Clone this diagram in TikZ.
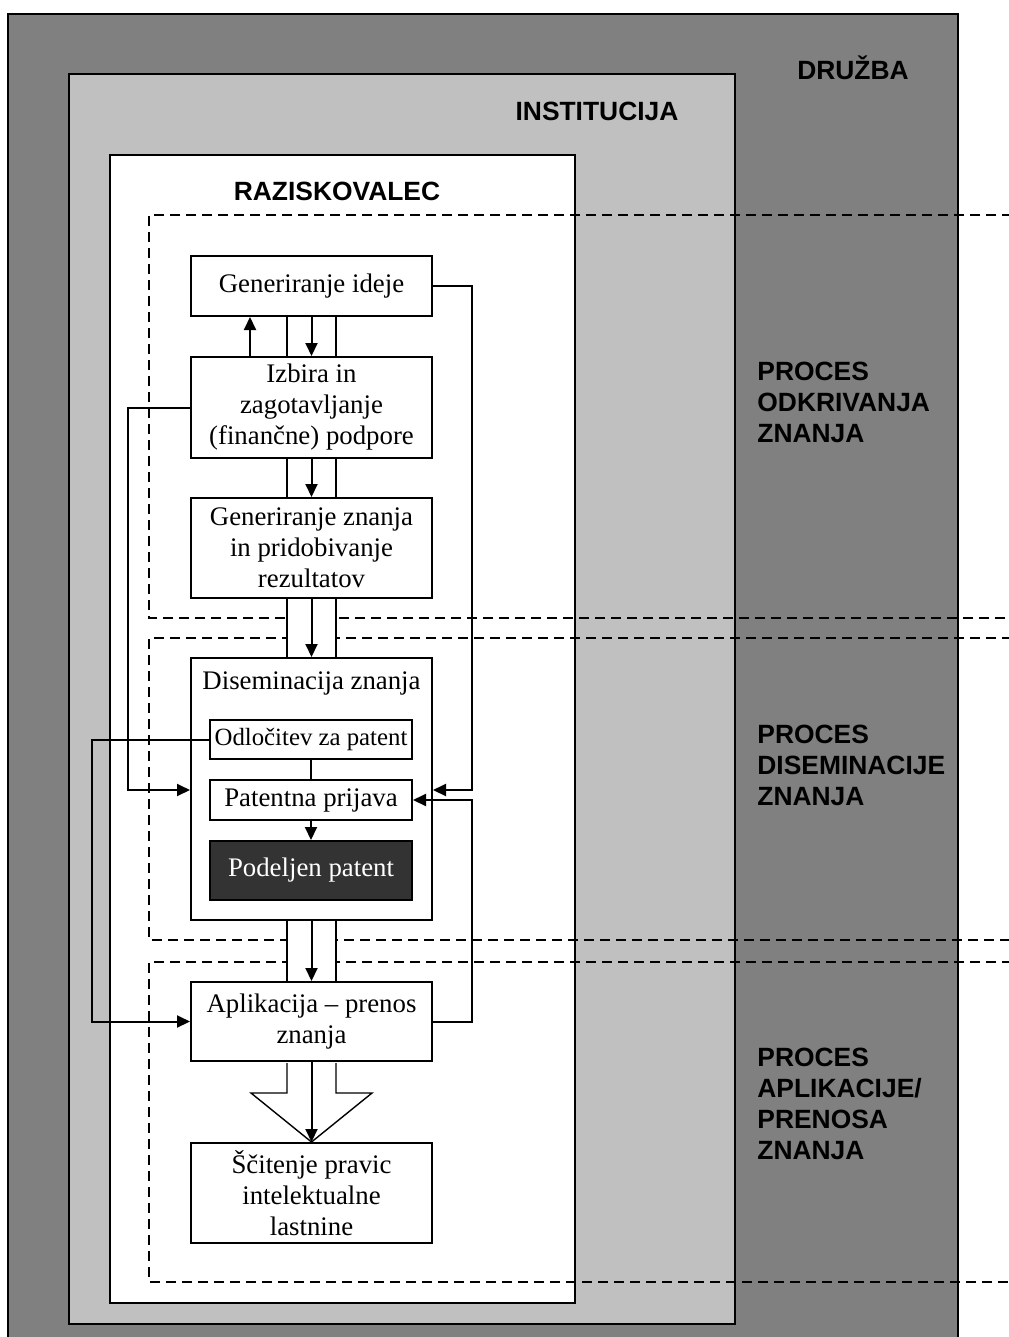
\documentclass[tikz,border=0pt]{standalone}
\usepackage{fontspec}
\setmainfont{Liberation Serif}
\newfontfamily\headfont{Liberation Sans}
\usetikzlibrary{arrows.meta}
\definecolor{druzba}{HTML}{808080}
\definecolor{institucija}{HTML}{C0C0C0}
\definecolor{patent}{HTML}{333333}

\begin{document}
\begin{tikzpicture}[x=0.5pt,y=-0.5pt,>={Triangle[length=6.5pt,width=6pt]}]
        \tikzstyle{area}=[draw=black,line width=1pt]
        \tikzstyle{title}=[font=\headfont\bfseries\fontsize{13.2}{15.5}\selectfont,inner sep=0pt,anchor=base]
        \tikzstyle{proc}=[title,align=left,anchor=north west]
        \tikzstyle{txt}=[inner sep=0pt,align=center,font=\fontsize{13.4}{15.5}\selectfont]
        \tikzstyle{stage}=[txt,draw,line width=1pt,fill=white,minimum width=120.5pt]
        \tikzstyle{sub}=[stage,minimum width=101pt]
        \tikzstyle{edge}=[draw,line width=1pt]
        \tikzstyle{zone}=[draw,dash pattern=on 5pt off 3pt,line width=0.8pt]
        \tikzstyle{shaft}=[draw,line width=0.7pt]
        \useasboundingbox (0,0) rectangle (1008,1337);
       \begin{scope}
         % druzba, institucija, raziskovalec
         \fill[druzba] (8,14) rectangle (958,1340);
         \draw[area] (8,1340) -- (8,14) -- (958,14) -- (958,1340);
         \path[area,fill=institucija] (69,74) rectangle (735,1324);
         \path[area,fill=white] (110,155) rectangle (575,1303);
         \node [title] (druzba) at (853,80) {DRUŽBA};
         \node [title] (inst) at (597,121) {INSTITUCIJA};
         \node [title] (razi) at (337,201) {RAZISKOVALEC};
         \node [proc] (p1) at (757,362) {PROCES\\ODKRIVANJA\\ZNANJA};
         \node [proc] (p2) at (757,725) {PROCES\\DISEMINACIJE\\ZNANJA};
         \node [proc] (p3) at (757,1048) {PROCES\\APLIKACIJE/\\PRENOSA\\ZNANJA};
         \foreach \top/\bot in {215/618,638/940,962/1282}
           \draw[zone] (1012,\top) -- (149,\top) -- (149,\bot) -- (1012,\bot);
        \end{scope}
       \begin{scope}
         \node [stage,minimum height=30pt] (gi) at (311.5,286) {Generiranje ideje};
         \node [stage,minimum height=50.5pt] (iz) at (311.5,407.5) {Izbira in\\zagotavljanje\\(finančne) podpore};
         \node [stage,minimum height=50pt] (gz) at (311.5,548) {Generiranje znanja\\in pridobivanje\\rezultatov};
         \node [stage,minimum height=131pt] (dis) at (311.5,789) {};
         \node [txt] (distxt) at (311.5,683) {Diseminacija znanja};
         \node [sub,minimum height=19.5pt,font=\fontsize{12.4}{15.5}\selectfont] (od) at (311,739.5) {Odločitev za patent};
         \node [sub,minimum height=20pt] (pp) at (311,800) {Patentna prijava};
         \node [sub,minimum height=29.5pt,fill=patent,text=white] (pe) at (311,870.5) {Podeljen patent};
         \node [stage,minimum height=39.5pt] (ap) at (311.5,1021.5) {Aplikacija -- prenos\\znanja};
         \node [stage,minimum height=50pt] (sc) at (311.5,1193) {Ščitenje pravic\\intelektualne\\lastnine};
        \end{scope}
         % hollow arrow
         \foreach \a/\b in {gi/iz,iz/gz,gz/dis,dis/ap} {
           \fill[white] ([xshift=-12.25pt,yshift=-0.5pt]\a.south) rectangle ([xshift=12.25pt,yshift=0.5pt]\b.north);
           \path[shaft] ([xshift=-12.25pt]\a.south) -- ([xshift=-12.25pt]\b.north);
           \path[shaft] ([xshift=12.25pt]\a.south) -- ([xshift=12.25pt]\b.north);
         }
         \coordinate (hb) at ([yshift=-15.5pt]ap.south);
         \filldraw[shaft,fill=white] ([xshift=-12.25pt,yshift=-0.5pt]ap.south) -- ([xshift=-12.25pt]hb) -- ([xshift=-30.25pt]hb) -- (sc.north) -- ([xshift=30.25pt]hb) -- ([xshift=12.25pt]hb) -- ([xshift=12.25pt,yshift=-0.5pt]ap.south);
         \coordinate (r1) at (472,790);
         \coordinate (l1) at (128,790);
         \coordinate (l2) at (92,1021.5);
         \coordinate (r2) at (472,800);
         \path[edge,->] (gi.south) -- (iz.north);
         \path[edge,->] (iz.south) -- (gz.north);
         \path[edge,->] (gz.south) -- (dis.north);
         \path[edge,->] (dis.south) -- (ap.north);
         \path[edge,->] (ap.south) -- (sc.north);
         \path[edge,->] ([xshift=30pt]iz.north west) -- ([xshift=30pt]gi.south west);
         \path[edge] (od.south) -- (pp.north);
         \path[edge,->] (pp.south) -- (pe.north);
         \path[edge,->] (gi.east) -| (r1) -- (r1 -| dis.east);
         \path[edge,->] (iz.west) -| (l1) -- (l1 -| dis.west);
         \path[edge,->] (od.west) -| (l2) -- (ap.west);
         \path[edge,->] (ap.east) -| (r2) -- (pp.east);
      \end{tikzpicture}
\end{document}
